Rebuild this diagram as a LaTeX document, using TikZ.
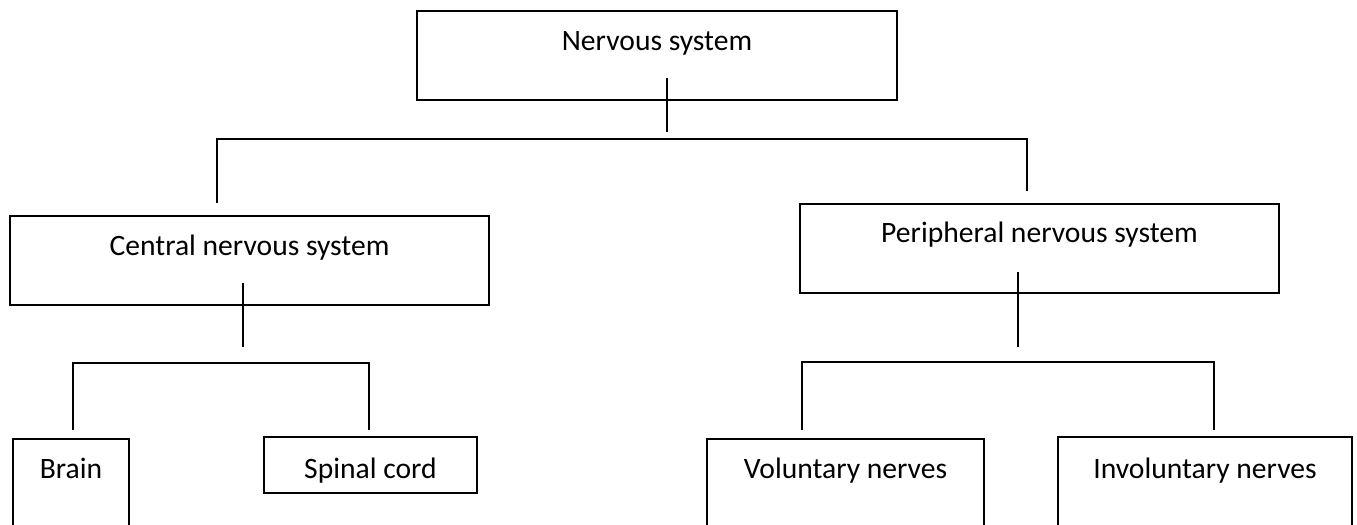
\documentclass[tikz,border=0pt]{standalone}
\usepackage{fontspec}
\setmainfont{Carlito}

\begin{document}
\begin{tikzpicture}[x=0.5pt, y=-0.5pt, font=\fontsize{14.8}{17}\selectfont,
    box/.style={draw, line width=1pt, anchor=north, outer sep=0pt,
                inner xsep=0pt, inner ysep=0pt, text height=19.5pt, text depth=25pt},
    openbox/.style={box, text depth=60pt},
    link/.style={line width=0.8pt}]

    %%% Page frame (the lowest boxes run off the bottom edge)
    \useasboundingbox (0,0) rectangle (1357,525);
    \clip (0,0) rectangle (1357,525);

    %%% Top level
    \node (ns) [box, minimum width=240pt] at (657,11) {Nervous system};

    %%% Second level
    \node (cns) [box, minimum width=239.5pt] at (249.5,216) {Central nervous system};
    \node (pns) [box, minimum width=239.5pt] at (1039.5,203.5) {Peripheral nervous system};

    %%% Third level
    \node (brain)  [openbox, minimum width=58pt]    at (71,439)     {Brain};
    \node (spinal) [box, minimum width=106.5pt, text height=20.5pt, text depth=7.5pt] at (370.5,437) {Spinal cord};
    \node (vol)    [openbox, minimum width=138.5pt] at (845.5,439)  {Voluntary nerves};
    \node (invol)  [openbox, minimum width=147pt, text height=20.5pt] at (1205,437) {Involuntary nerves};

    %%% Bracket corners
    \coordinate (topL) at (217,139);
    \coordinate (topR) at (1027,139);
    \coordinate (cnsL) at (73,363);
    \coordinate (cnsR) at (369,363);
    \coordinate (pnsL) at (802,362);
    \coordinate (pnsR) at (1214,362);

    %%% Stems
    \draw[link] (ns.south)  ++(10,-22)   -- ++(0,54);
    \draw[link] (cns.south) ++(-6.5,-22) -- ++(0,64);
    \draw[link] (pns.south) ++(-21.5,-21) -- ++(0,75);

    %%% Brackets
    \draw[link, shorten <=6.5pt, shorten >=6.5pt]
        (topL |- cns.north) -- (topL) -- (topR) -- (topR |- pns.north);
    \draw[link, shorten <=4.5pt, shorten >=3.5pt]
        (cnsL |- brain.north) -- (cnsL) -- (cnsR) -- (cnsR |- spinal.north);
    \draw[link, shorten <=4.5pt, shorten >=3.5pt]
        (pnsL |- vol.north) -- (pnsL) -- (pnsR) -- (pnsR |- invol.north);

\end{tikzpicture}
\end{document}
